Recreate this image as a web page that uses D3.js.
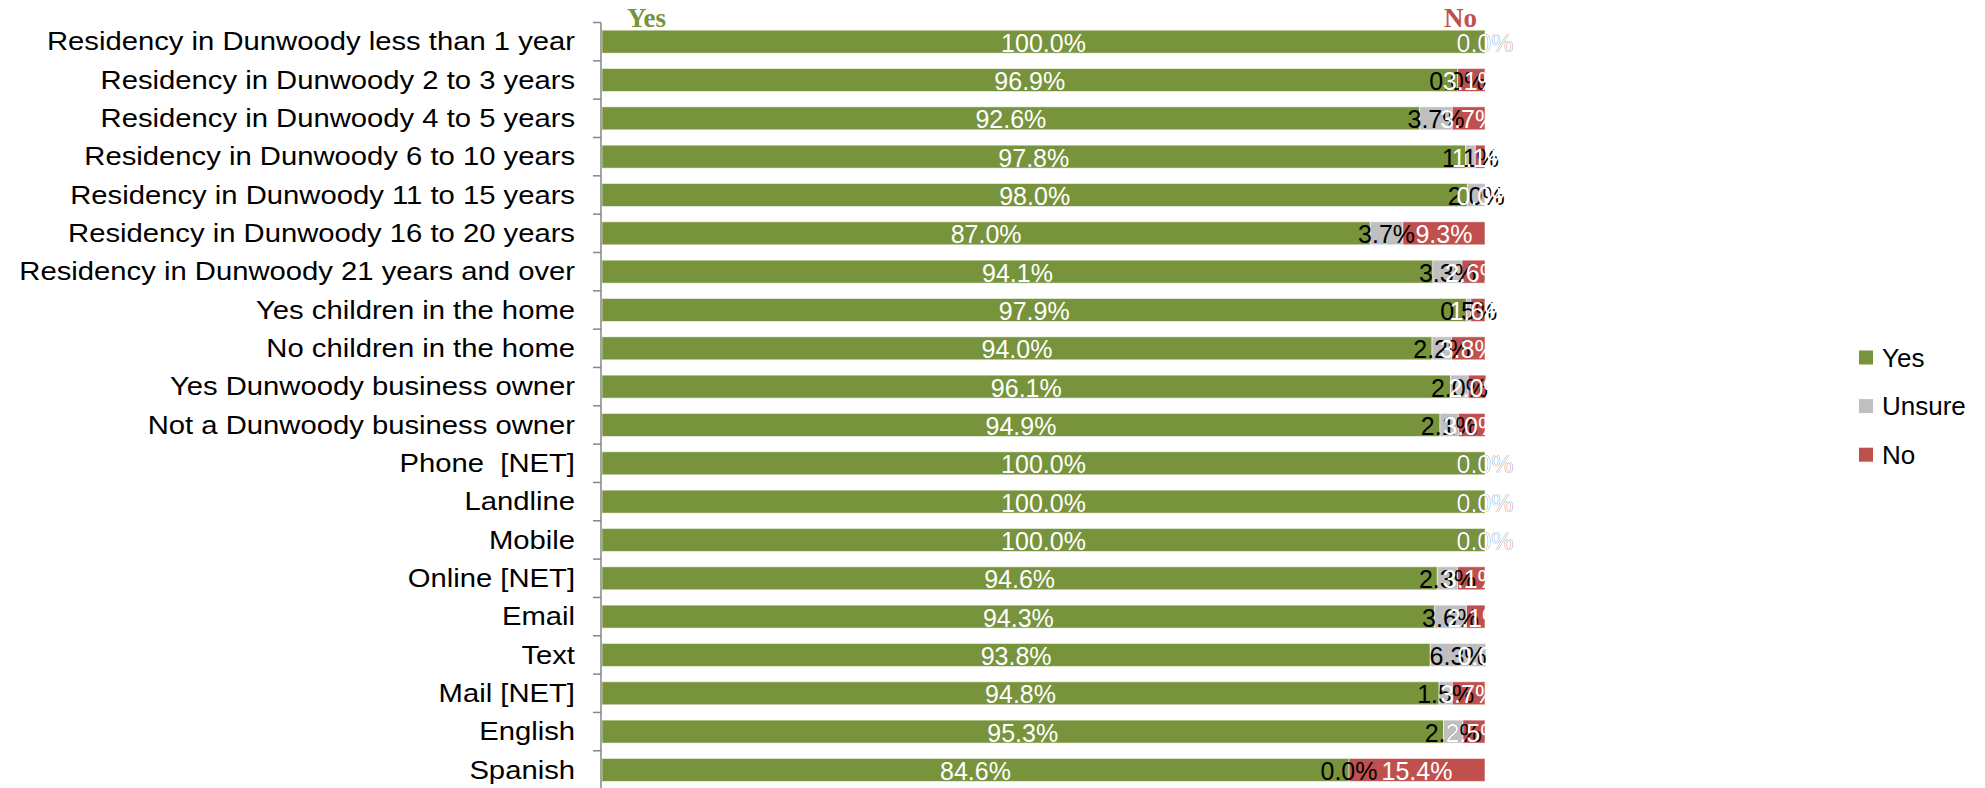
<!DOCTYPE html>
<html>
<head>
<meta charset="utf-8">
<script src="https://cdn.jsdelivr.net/npm/d3@7/dist/d3.min.js"></script>
<style>
  html, body { margin: 0; padding: 0; background: #ffffff; }
  svg { display: block; }
</style>
</head>
<body>
<div id="chart"></div>
<script>
const categories = [
  "Residency in Dunwoody less than 1 year",
  "Residency in Dunwoody 2 to 3 years",
  "Residency in Dunwoody 4 to 5 years",
  "Residency in Dunwoody 6 to 10 years",
  "Residency in Dunwoody 11 to 15 years",
  "Residency in Dunwoody 16 to 20 years",
  "Residency in Dunwoody 21 years and over",
  "Yes children in the home",
  "No children in the home",
  "Yes Dunwoody business owner",
  "Not a Dunwoody business owner",
  "Phone  [NET]",
  "Landline",
  "Mobile",
  "Online [NET]",
  "Email",
  "Text",
  "Mail [NET]",
  "English",
  "Spanish"
];
const yesValues    = [100.0, 96.9, 92.6, 97.8, 98.0, 87.0, 94.1, 97.9, 94.0, 96.1, 94.9, 100.0, 100.0, 100.0, 94.6, 94.3, 93.8, 94.8, 95.3, 84.6];
const unsureValues = [0.0, 0.0, 3.7, 1.1, 2.0, 3.7, 3.3, 0.5, 2.2, 2.0, 2.1, 0.0, 0.0, 0.0, 2.3, 3.6, 6.3, 1.5, 2.2, 0.0];
const noValues     = [0.0, 3.1, 3.7, 1.1, 0.0, 9.3, 2.6, 1.6, 3.8, 2.0, 3.0, 0.0, 0.0, 0.0, 3.1, 2.1, 0.0, 3.7, 2.5, 15.4];
const seriesNames  = ["Yes", "Unsure", "No"];
const seriesColors = ["#77933C", "#BFBFBF", "#C0504D"];
const labelColors  = ["#FFFFFF", "#000000", "#FFFFFF"];

const W = 1985, H = 788;
const svg = d3.select("#chart").append("svg").attr("width", W).attr("height", H);

const table = categories.map((c, i) => ({ cat: c, Yes: yesValues[i], Unsure: unsureValues[i], No: noValues[i] }));
const stacked = d3.stack().keys(seriesNames)(table);

const x = d3.scaleLinear().domain([0, 100]).range([602, 1485]);
const y = d3.scaleBand().domain(categories).range([22.5, 789.1]).paddingInner(0.4).paddingOuter(0.2);
const color = d3.scaleOrdinal().domain(seriesNames).range(seriesColors);
const lblColor = d3.scaleOrdinal().domain(seriesNames).range(labelColors);

// bars
const layers = svg.append("g").selectAll("g").data(stacked).join("g")
  .attr("fill", d => color(d.key));
layers.selectAll("rect").data(d => d.map(v => ({ v, key: d.key }))).join("rect")
  .attr("x", d => x(d.v[0]))
  .attr("y", d => y(d.v.data.cat))
  .attr("width", d => Math.max(0, x(d.v[1]) - x(d.v[0])))
  .attr("height", y.bandwidth())
  .attr("stroke", "rgba(255,255,255,0.55)")
  .attr("stroke-width", 1);

// axis (ticks at band edges)
const step = y.step();
const edge0 = y(categories[0]) - y.paddingOuter() * step;
const tickYs = d3.range(categories.length + 1).map(i => edge0 + i * step);
const axisG = svg.append("g");
axisG.append("line").attr("x1", 601).attr("x2", 601).attr("y1", tickYs[0]).attr("y2", tickYs[tickYs.length - 1])
  .attr("stroke", "#868686").attr("stroke-width", 1.5);
axisG.selectAll("line.tick").data(tickYs).join("line").attr("class", "tick")
  .attr("x1", 593).attr("x2", 601).attr("y1", d => d).attr("y2", d => d)
  .attr("stroke", "#868686").attr("stroke-width", 1.5);

// category labels
axisG.selectAll("g.lbl").data(categories).join("g").attr("class", "lbl")
  .attr("transform", d => `translate(575,${y(d) + y.bandwidth() / 2}) scale(1.17,1)`)
  .append("text")
  .attr("text-anchor", "end")
  .attr("dominant-baseline", "central")
  .attr("font-family", "'Liberation Sans', Arial, sans-serif")
  .attr("font-size", 25)
  .attr("fill", "#000")
  .style("white-space", "pre")
  .text(d => d);

// data labels
const labelLayers = svg.append("g").selectAll("g").data(stacked).join("g");
labelLayers.selectAll("text").data(d => d.map(v => ({ v, key: d.key }))).join("text")
  .attr("x", d => (x(d.v[0]) + x(d.v[1])) / 2)
  .attr("y", d => y(d.v.data.cat) + y.bandwidth() / 2 + 1)
  .attr("text-anchor", "middle")
  .attr("dominant-baseline", "central")
  .attr("font-family", "'Liberation Sans', Arial, sans-serif")
  .attr("font-size", 25)
  .attr("fill", d => lblColor(d.key))
  .text(d => d3.format(".1f")(d.v.data[d.key]) + "%");

// column headers
svg.append("text").attr("x", x(0) + 25).attr("y", 26.5)
  .attr("font-family", "'Liberation Serif', 'Times New Roman', serif").attr("font-weight", "bold")
  .attr("font-size", 27).attr("fill", seriesColors[0]).text("Yes");
svg.append("text").attr("x", x(100) - 8).attr("y", 26.5).attr("text-anchor", "end")
  .attr("font-family", "'Liberation Serif', 'Times New Roman', serif").attr("font-weight", "bold")
  .attr("font-size", 27).attr("fill", seriesColors[2]).text("No");

// legend
const legend = svg.append("g").attr("transform", "translate(1859,357.5)");
const li = legend.selectAll("g").data(seriesNames).join("g")
  .attr("transform", (d, i) => `translate(0,${i * 48.6})`);
li.append("rect").attr("x", 0).attr("y", -7).attr("width", 14).attr("height", 14).attr("fill", d => color(d));
li.append("text").attr("x", 23).attr("y", 0).attr("dominant-baseline", "central")
  .attr("font-family", "'Liberation Sans', Arial, sans-serif").attr("font-size", 26).attr("fill", "#000")
  .text(d => d);
</script>
</body>
</html>
